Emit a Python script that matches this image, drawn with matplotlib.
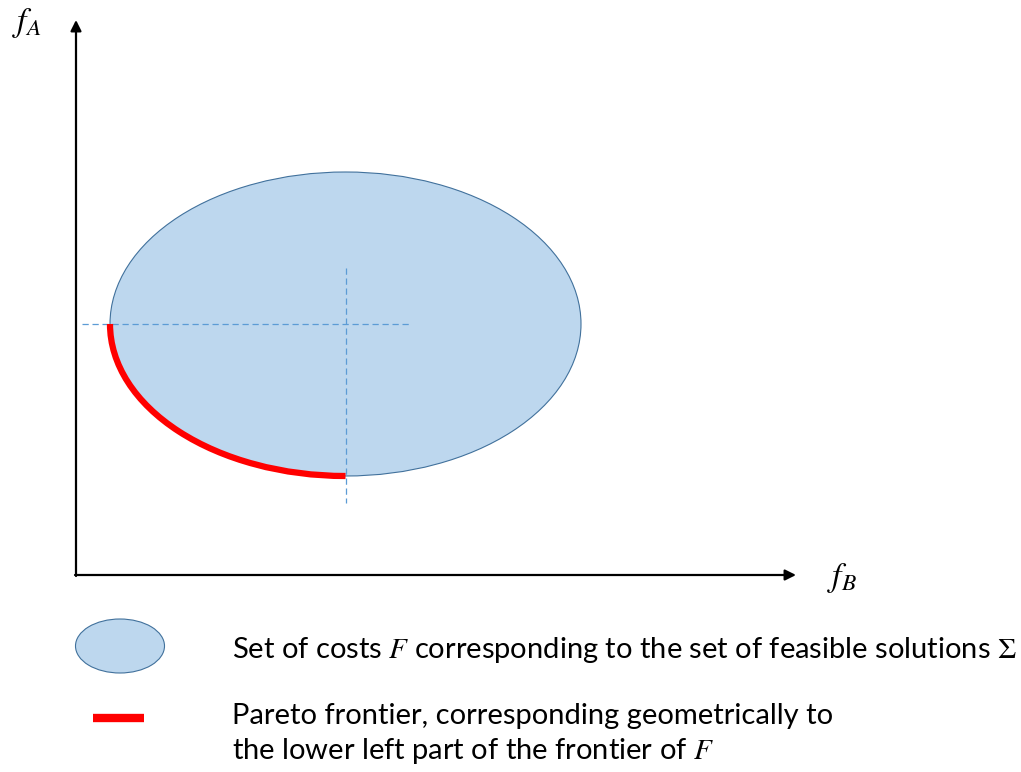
import matplotlib
matplotlib.use("Agg")
import matplotlib.pyplot as plt
from matplotlib.patches import Ellipse, Arc

plt.rcParams['mathtext.fontset'] = 'stix'

# canvas in pixels (y grows downward)
W, H = 1021, 772

# axes of the diagram
origin = (76, 575)
y_axis_top = 20
x_axis_end = 796

# set of costs F (ellipse)
cost_center = (345.5, 324)
cost_width = 471
cost_height = 304

# dashed guides through the centre
h_guide_x = [82, 409]
v_guide_y = [268, 503]

# Pareto frontier: lower left quarter of the ellipse (degrees, y-down frame)
pareto_theta = [90, 180]

legend_texts = [
    r"Set of costs $F$ corresponding to the set of feasible solutions $\Sigma$",
    "Pareto frontier, corresponding geometrically to",
    r"the lower left part of the frontier of $F$",
]

fill_col = '#BDD7EE'
edge_col = '#41719C'
guide_col = '#5B9BD5'
red = '#FF0000'

fig = plt.figure(figsize=(W / 100, H / 100), dpi=100)
ax = fig.add_axes([0, 0, 1, 1])
ax.set_xlim(0, W)
ax.set_ylim(H, 0)
ax.axis('off')

# axes arrows
arrow = dict(arrowstyle='-|>', lw=1.6, color='black', mutation_scale=16, shrinkA=0, shrinkB=0)
ax.annotate('', xy=(origin[0], y_axis_top), xytext=(origin[0], origin[1] + 1), arrowprops=arrow)
ax.annotate('', xy=(x_axis_end, origin[1]), xytext=(origin[0] - 1, origin[1]), arrowprops=arrow)
ax.text(12, 23, r'$f_A$', fontsize=24, ha='left', va='center')
ax.text(827, 578, r'$f_B$', fontsize=24, ha='left', va='center')

# feasible cost set
ax.add_patch(Ellipse(cost_center, cost_width, cost_height, facecolor=fill_col,
                     edgecolor=edge_col, lw=0.8, zorder=2))

# guides
ax.plot(h_guide_x, [cost_center[1]] * 2, ls=(0, (5, 3)), color=guide_col, lw=0.9, zorder=3)
ax.plot([cost_center[0]] * 2, v_guide_y, ls=(0, (5, 3)), color=guide_col, lw=0.9, zorder=3)

# Pareto frontier
ax.add_patch(Arc(cost_center, cost_width, cost_height, theta1=pareto_theta[0],
                 theta2=pareto_theta[1], color=red, lw=4.5, capstyle='butt', zorder=4))

# legend
ax.add_patch(Ellipse((120, 646), 89, 54, facecolor=fill_col, edgecolor=edge_col, lw=0.8))
ax.plot([93, 144], [718, 718], color=red, lw=6, solid_capstyle='butt')
txt = dict(fontsize=21, family='Lato', ha='left', va='baseline')
ax.text(232, 658, legend_texts[0], **txt)
ax.text(232, 724, legend_texts[1], **txt)
ax.text(232, 759, legend_texts[2], **txt)

fig.savefig('out.png', dpi=100)
